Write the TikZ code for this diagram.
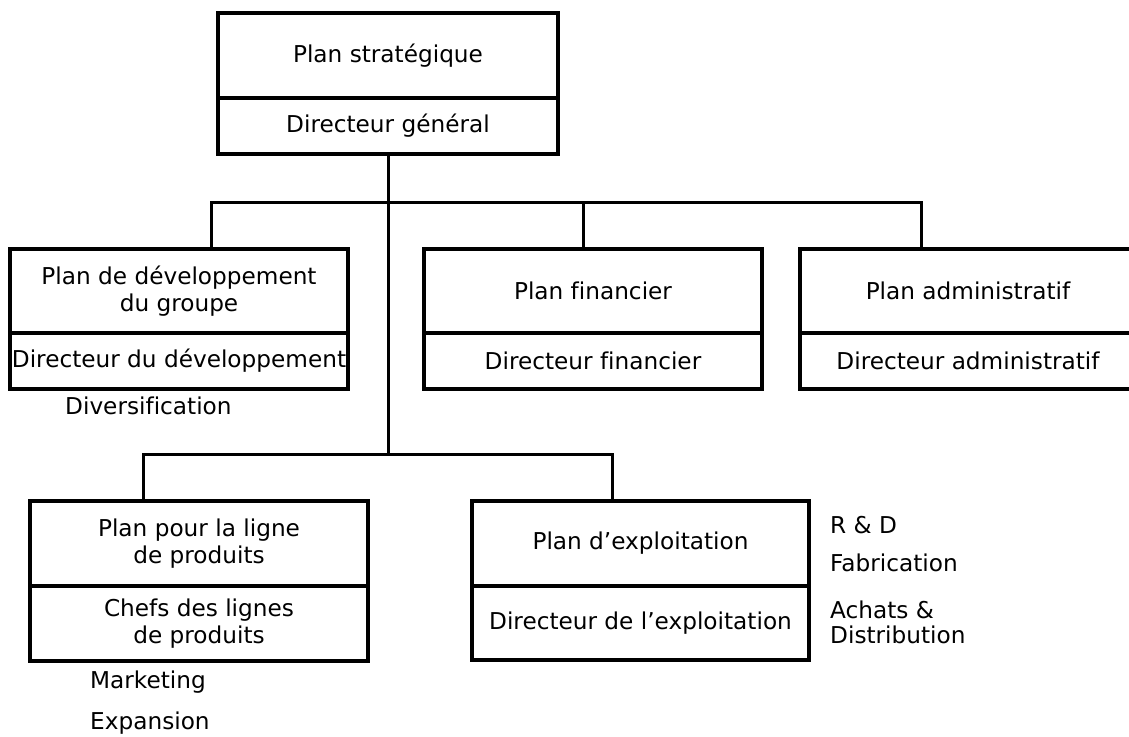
\documentclass[tikz,border=0pt]{standalone}
\usepackage{fontspec}
\setmainfont[Ligatures=NoCommon]{DejaVu Sans}
\begin{document}
\begin{tikzpicture}[x=1pt,y=-1pt,
  cell/.style={draw, line width=3.2pt, inner sep=0pt, align=center,
               font=\fontsize{23.2}{26.7}\selectfont},
  lab/.style={anchor=west, inner sep=0pt, align=left,
              font=\fontsize{23.2}{25}\selectfont},
  conn/.style={line width=3pt}]
\clip (0,0) rectangle (1129,736);
\fill[white] (0,0) rectangle (1129,736);

% top
\node[cell, minimum width=340pt, minimum height=85pt] (sp) at (388,55.5) {Plan stratégique};
\node[cell, minimum width=340pt, minimum height=56pt] (dg) at (388,126) {Directeur général};

% second row
\node[cell, minimum width=338pt, minimum height=84pt] (dev) at (179,291) {Plan de développement\\du groupe};
\node[cell, minimum width=338pt, minimum height=56pt] (ddev) at (179,361) {Directeur du développement};

\node[cell, minimum width=338pt, minimum height=84pt] (fin) at (593,291) {Plan financier};
\node[cell, minimum width=338pt, minimum height=56pt] (dfin) at (593,361) {Directeur financier};

\node[cell, minimum width=336pt, minimum height=84pt] (adm) at (968,291) {Plan administratif};
\node[cell, minimum width=336pt, minimum height=56pt] (dadm) at (968,361) {Directeur administratif};

% third row
\node[cell, minimum width=338pt, minimum height=85pt] (prod) at (199,543.5) {Plan pour la ligne\\de produits};
\node[cell, minimum width=338pt, minimum height=75pt] (dprod) at (199,623.5) {Chefs des lignes\\de produits};

\node[cell, minimum width=337pt, minimum height=85pt] (exp) at (640.5,543.5) {Plan d’exploitation};
\node[cell, minimum width=337pt, minimum height=74pt] (dexp) at (640.5,623) {Directeur de l’exploitation};

% connectors
\coordinate (b1) at (211,202);
\coordinate (b2) at (583,202);
\coordinate (b3) at (921,202);
\coordinate (c1) at (143,454);
\coordinate (c2) at (612,454);
\coordinate (j2) at (388,454);
\draw[conn] (dg.south) -- (j2);
\draw[conn] (b1 |- dev.north) -- (b1) -- (b3) -- (b3 |- adm.north);
\draw[conn] (b2) -- (b2 |- fin.north);
\draw[conn] (c1 |- prod.north) -- (c1) -- (c2) -- (c2 |- exp.north);

% side labels
\node[lab] (div) at (65,406) {Diversification};
\node[lab] (mkt) at (90,682) {Marketing};
\node[lab] (expa) at (90,723) {Expansion};
\node[lab] (rd) at (830,525) {R \& D};
\node[lab] (fab) at (830,563) {Fabrication};
\node[lab] (ach) at (830,622.5) {Achats \&\\Distribution};
\end{tikzpicture}
\end{document}
